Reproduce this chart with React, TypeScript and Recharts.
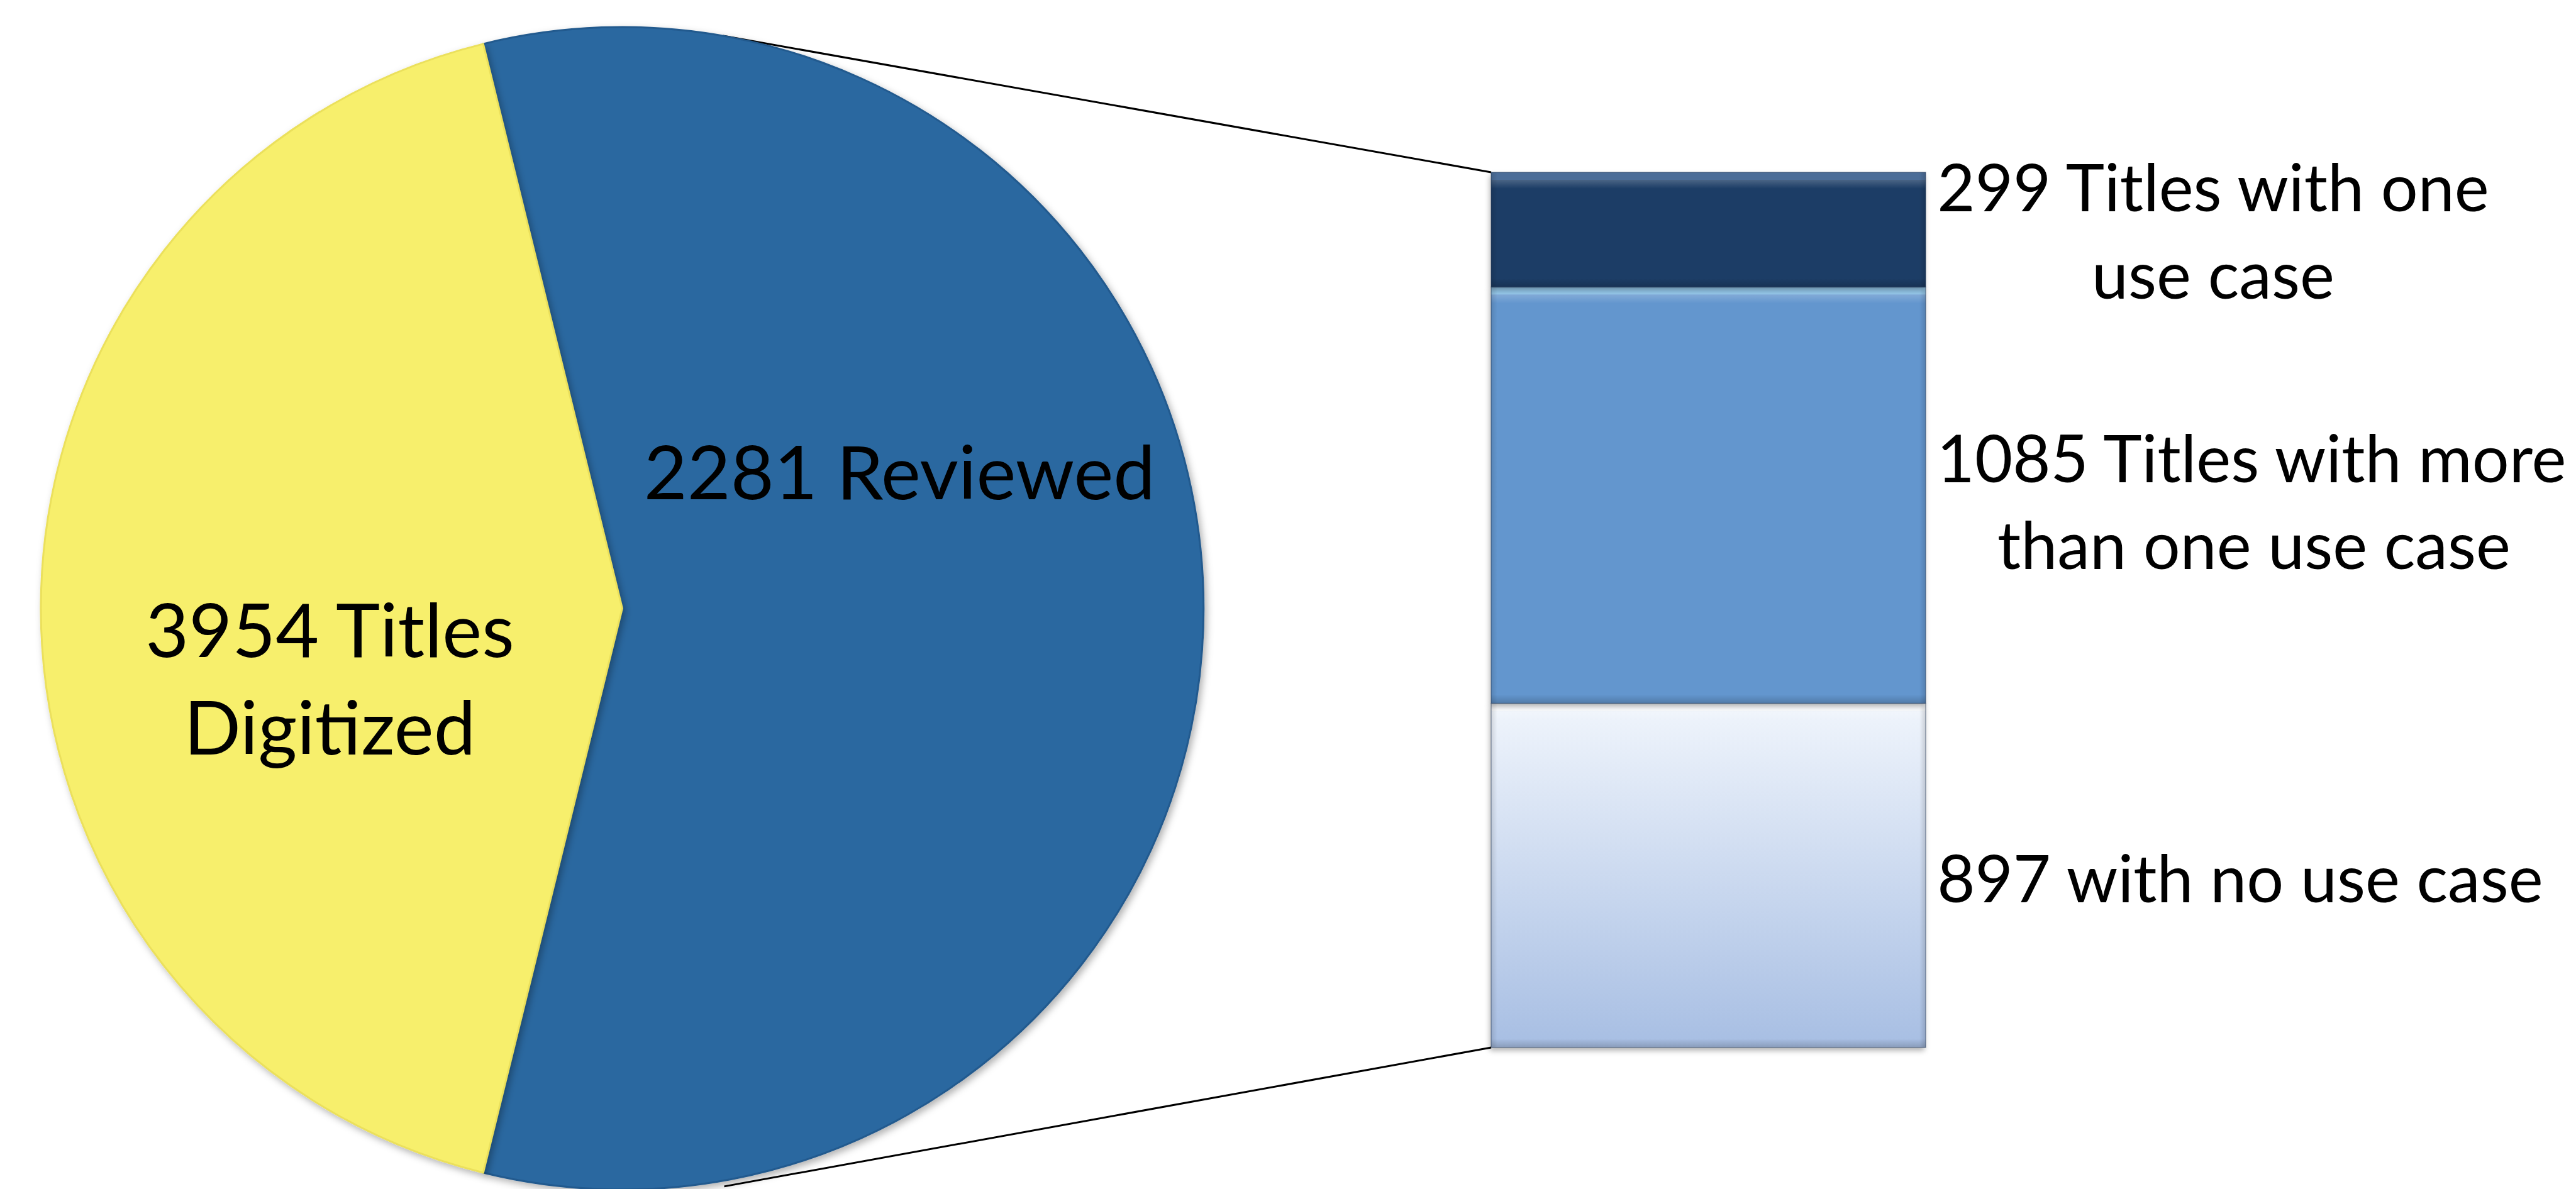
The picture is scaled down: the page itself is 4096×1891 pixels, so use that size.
import React from 'react';
import { PieChart, Pie, Cell, BarChart, Bar, XAxis, YAxis, LabelList } from 'recharts';

// ---- data ----
const pieNames = ['Reviewed', 'Digitized'];
const pieValues = [2281, 1673];
const pieLabelLines = [['2281 Reviewed'], ['3954 Titles', 'Digitized']];
const pieColors = ['#2A67A0', '#F7EF6C'];
const pieStrokes = ['#235A8E', '#EBE05C'];

const barCategories = ['Reviewed'];
const segmentKeys = ['none', 'more', 'one'];
const segmentValues = [897, 1085, 299];
const segmentLabelLines = [
  ['897 with no use case'],
  ['1085 Titles with more', 'than one use case'],
  ['299 Titles with one', 'use case'],
];
const segmentFills = ['url(#noneGrad)', '#6496CE', '#1C3D66'];

// ---- layout ----
const W = 4096;
const H = 1891;
const PIE_CX = 989.4;
const PIE_CY = 967.4;
const PIE_R = 924.4;
const BAR_LEFT = 2371;
const BAR_RIGHT = 3062;
const BAR_TOP = 274;
const BAR_BOTTOM = 1666;
const FONT = "Lato, 'Open Sans', 'DejaVu Sans', sans-serif";
const BAR_FONT_SIZE = 104;
const PIE_FONT_SIZE = 119;
const CONNECT_ANGLE = 80; // degrees from horizontal, on the pie rim

// label placement relative to segment rect (x from bar right edge, y from rect top)
const segLabelDx = [[500], [518, 522], [457, 457]];
const segLabelDy = [[316], [310.5, 448.5], [62, 201]];
// pie label placement as fraction of radius from center
const pieLabelFx = [0.477, -0.503];
const pieLabelFy = [[-0.188], [0.084, 0.252]];

const barRow: Record<string, any> = { name: barCategories[0] };
segmentKeys.forEach((k, i) => {
  barRow[k] = segmentValues[i];
});
const barData = [barRow];
const pieData = pieNames.map((n, i) => ({ name: n, value: pieValues[i] }));

const rad = (d: number) => (d * Math.PI) / 180;

const BevelBar = (props: any) => {
  const { x, y, width, height, fill, segIndex } = props;
  if (!width || !height) return null;
  const hiColor = ['#FFFFFF', '#A9DBF5', '#5F82AE'][segIndex];
  return (
    <g>
      <rect x={x} y={y} width={width} height={height} fill={fill} filter="url(#barShadow)" />
      <rect x={x} y={y} width={width} height={12} fill={hiColor} opacity={0.7} />
      <rect x={x} y={y + 12} width={width} height={14} fill="url(#hiFade)" />
      <rect x={x} y={y + height - 14} width={width} height={14} fill="url(#loFade)" />
      <rect x={x} y={y} width={10} height={height} fill="url(#leftFade)" />
      <rect x={x + width - 10} y={y} width={10} height={height} fill="url(#rightFade)" />
      <rect x={x} y={y} width={width} height={height} fill="none" stroke="rgba(40,60,90,0.45)" strokeWidth={1.5} />
    </g>
  );
};

const makeSegLabel = (segIndex: number) => (props: any) => {
  const { x, y, width, height } = props;
  const lines = segmentLabelLines[segIndex];
  const right = x + width;
  const out: React.ReactNode[] = lines.map((t, li) => (
    <text
      key={li}
      x={right + segLabelDx[segIndex][li]}
      y={y + segLabelDy[segIndex][li]}
      textAnchor="middle"
      fontFamily={FONT}
      fontSize={BAR_FONT_SIZE}
      fill="#000"
    >
      {t}
    </text>
  ));
  // connector lines from bar corners to the pie rim (pie is drawn over them)
  if (segIndex === segmentKeys.length - 1) {
    out.push(
      <line
        key="conn-top"
        x1={x}
        y1={y}
        x2={PIE_CX + PIE_R * Math.cos(rad(CONNECT_ANGLE))}
        y2={PIE_CY - PIE_R * Math.sin(rad(CONNECT_ANGLE))}
        stroke="#000"
        strokeWidth={3}
      />
    );
  }
  if (segIndex === 0) {
    out.push(
      <line
        key="conn-bottom"
        x1={x}
        y1={y + height}
        x2={PIE_CX + PIE_R * 1.01 * Math.cos(rad(CONNECT_ANGLE))}
        y2={PIE_CY + PIE_R * 1.01 * Math.sin(rad(CONNECT_ANGLE))}
        stroke="#000"
        strokeWidth={3}
      />
    );
  }
  return <g>{out}</g>;
};

const renderPieLabel = (props: any) => {
  const { cx, cy, outerRadius, index } = props;
  const lines = pieLabelLines[index];
  return (
    <g>
      {lines.map((t, li) => (
        <text
          key={li}
          x={cx + pieLabelFx[index] * outerRadius}
          y={cy + pieLabelFy[index][li] * outerRadius}
          textAnchor="middle"
          fontFamily={FONT}
          fontSize={PIE_FONT_SIZE}
          fill="#000"
        >
          {t}
        </text>
      ))}
    </g>
  );
};

export default function App() {
  const span = (pieValues[0] / (pieValues[0] + pieValues[1])) * 360;
  const start = -span / 2;
  return (
    <div style={{ position: 'absolute', left: 0, top: 0, width: W, height: H, background: '#fff', overflow: 'hidden' }}>
      <svg width={0} height={0} style={{ position: 'absolute' }}>
        <defs>
          <linearGradient id="noneGrad" x1="0" y1="0" x2="0" y2="1">
            <stop offset="0%" stopColor="#F0F5FC" />
            <stop offset="100%" stopColor="#A7BEE3" />
          </linearGradient>
          <linearGradient id="hiFade" x1="0" y1="0" x2="0" y2="1">
            <stop offset="0%" stopColor="#FFFFFF" stopOpacity={0.2} />
            <stop offset="100%" stopColor="#FFFFFF" stopOpacity={0} />
          </linearGradient>
          <linearGradient id="loFade" x1="0" y1="0" x2="0" y2="1">
            <stop offset="0%" stopColor="#000000" stopOpacity={0} />
            <stop offset="100%" stopColor="#000000" stopOpacity={0.18} />
          </linearGradient>
          <linearGradient id="leftFade" x1="0" y1="0" x2="1" y2="0">
            <stop offset="0%" stopColor="#000000" stopOpacity={0.12} />
            <stop offset="100%" stopColor="#000000" stopOpacity={0} />
          </linearGradient>
          <linearGradient id="rightFade" x1="0" y1="0" x2="1" y2="0">
            <stop offset="0%" stopColor="#000000" stopOpacity={0} />
            <stop offset="100%" stopColor="#000000" stopOpacity={0.15} />
          </linearGradient>
          <filter id="pieShadow" x="-10%" y="-10%" width="120%" height="120%">
            <feDropShadow dx="4" dy="5" stdDeviation="6" floodColor="#000" floodOpacity="0.3" />
          </filter>
          <filter id="barShadow" x="-10%" y="-10%" width="120%" height="120%">
            <feDropShadow dx="-2" dy="5" stdDeviation="4" floodColor="#000" floodOpacity="0.3" />
          </filter>
        </defs>
      </svg>

      <div style={{ position: 'absolute', left: 0, top: 0 }}>
        <BarChart
          width={W}
          height={H}
          data={barData}
          margin={{ left: BAR_LEFT, right: W - BAR_RIGHT, top: BAR_TOP, bottom: H - BAR_BOTTOM }}
          barCategoryGap={0}
          barGap={0}
        >
          <XAxis dataKey="name" hide />
          <YAxis hide domain={[0, 'dataMax']} />
          {segmentKeys.map((k, i) => (
            <Bar
              key={k}
              dataKey={k}
              stackId="s"
              fill={segmentFills[i]}
              isAnimationActive={false}
              shape={(p: any) => <BevelBar {...p} segIndex={i} />}
            >
              <LabelList dataKey={k} content={makeSegLabel(i)} />
            </Bar>
          ))}
        </BarChart>
      </div>

      <div style={{ position: 'absolute', left: 0, top: 0 }}>
        <PieChart width={W} height={H} margin={{ top: 0, right: 0, bottom: 0, left: 0 }}>
          <Pie
            data={pieData}
            dataKey="value"
            nameKey="name"
            cx={PIE_CX}
            cy={PIE_CY}
            outerRadius={PIE_R}
            innerRadius={0}
            startAngle={start}
            endAngle={start + 360}
            paddingAngle={0}
            isAnimationActive={false}
            label={renderPieLabel}
            labelLine={false}
          >
            {pieData.map((d, i) => (
              <Cell key={d.name} fill={pieColors[i]} stroke={pieStrokes[i]} strokeWidth={3} filter="url(#pieShadow)" />
            ))}
          </Pie>
        </PieChart>
      </div>
    </div>
  );
}
